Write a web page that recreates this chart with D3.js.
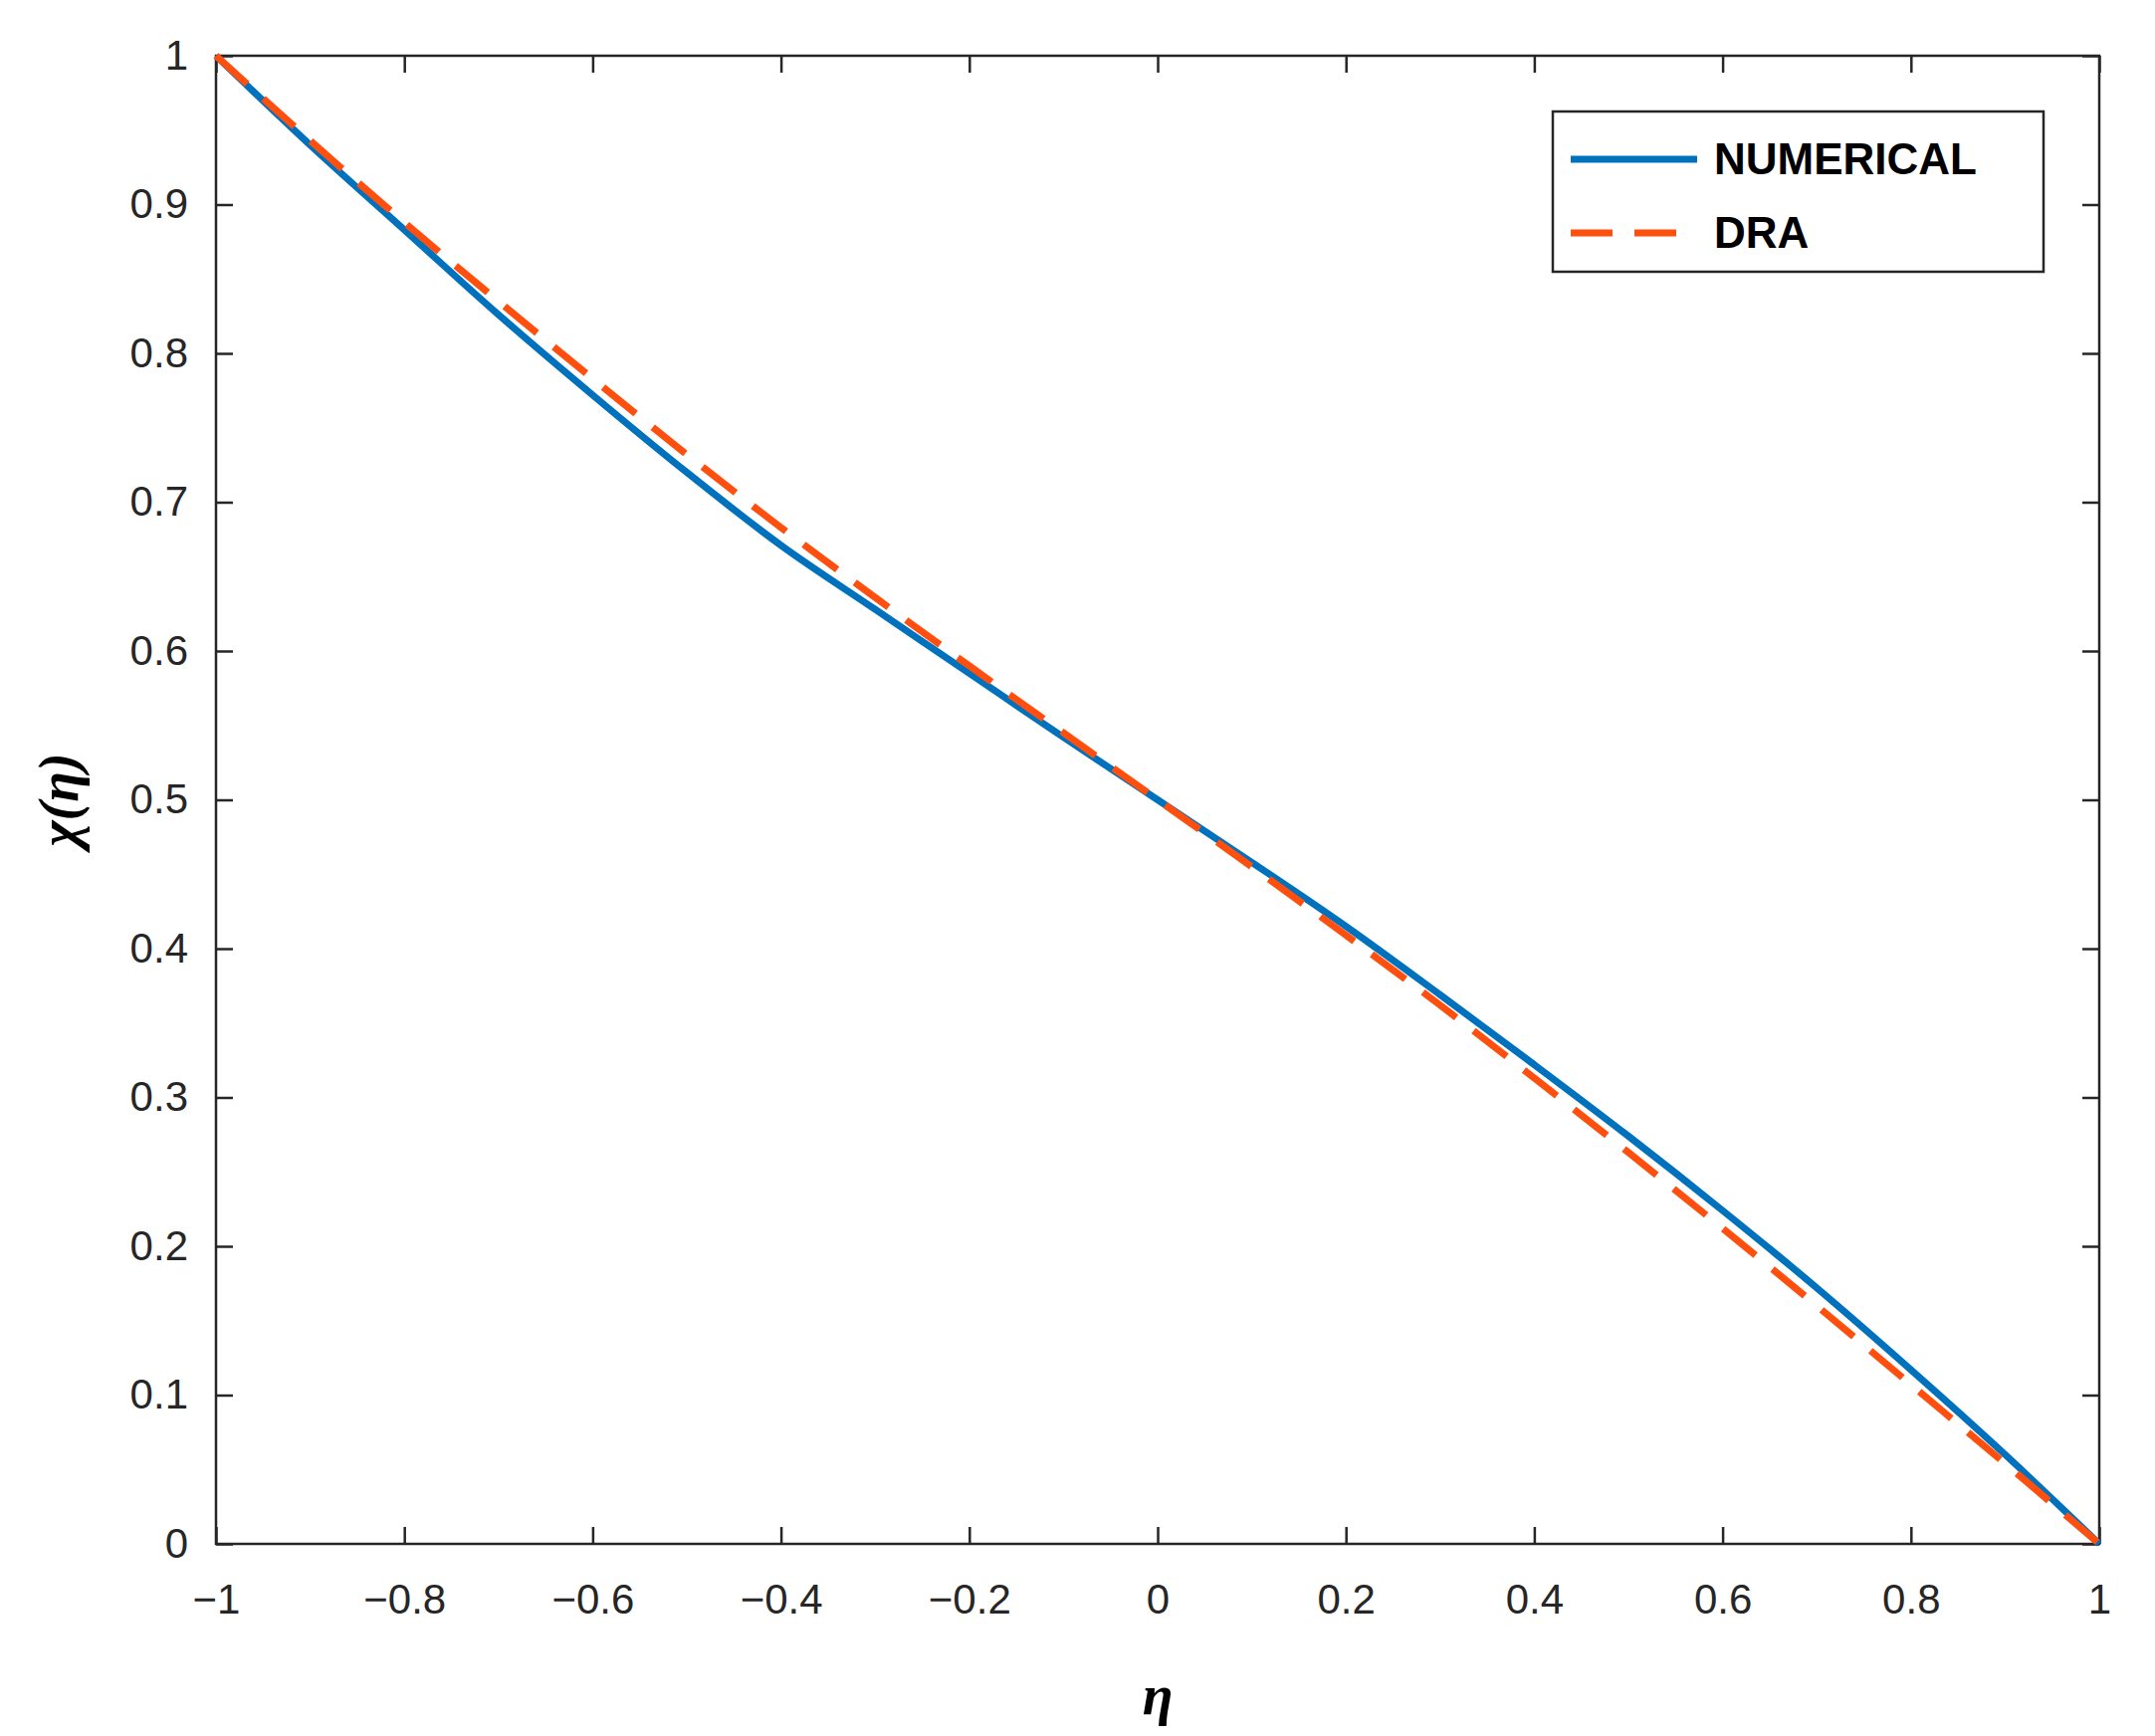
<!DOCTYPE html>
<html><head><meta charset="utf-8">
<script src="https://cdn.jsdelivr.net/npm/d3@7"></script>
<style>body{margin:0;background:#fff}svg{font-family:"Liberation Sans",Arial,sans-serif}</style>
</head><body><div id="chart"></div>
<script>
// Data
const eta = [-1,-0.9,-0.8,-0.7,-0.6,-0.5,-0.4,-0.3,-0.2,-0.1,0,0.1,0.2,0.3,0.4,0.5,0.6,0.7,0.8,0.9,1];
const numerical = [1,0.94,0.883,0.826,0.772,0.72,0.671,0.628,0.585,0.542,0.5,0.458,0.415,0.369,0.322,0.274,0.224,0.172,0.117,0.06,0];
const dra = [1,0.943,0.888,0.835,0.783,0.732,0.683,0.636,0.59,0.545,0.5,0.455,0.409,0.362,0.313,0.263,0.212,0.16,0.107,0.054,0];
const xTicks = [-1,-0.8,-0.6,-0.4,-0.2,0,0.2,0.4,0.6,0.8,1];
const yTicks = [0,0.1,0.2,0.3,0.4,0.5,0.6,0.7,0.8,0.9,1];

const W = 2165, H = 1744;
const margin = {top: 56, right: 56, bottom: 193, left: 217};
const width = W - margin.left - margin.right, height = H - margin.top - margin.bottom;

const svg = d3.select("#chart").append("svg").attr("width", W).attr("height", H);
const g = svg.append("g").attr("transform", `translate(${margin.left},${margin.top})`);

const x = d3.scaleLinear().domain([-1, 1]).range([0, width]);
const y = d3.scaleLinear().domain([0, 1]).range([height, 0]);
const fmt = d => d3.format("")(+d.toFixed(1));

// Axes with inward ticks on all four sides
function styleAxis(sel) {
  sel.select(".domain").remove();
  sel.selectAll("line").attr("stroke", "#262626").attr("stroke-width", 2.5);
  sel.selectAll("text").attr("fill", "#262626").style("font-size", "42px");
}
g.append("g").attr("transform", `translate(0,${height})`)
  .call(d3.axisBottom(x).tickValues(xTicks).tickFormat(fmt).tickSizeInner(-17).tickPadding(40)).call(styleAxis);
g.append("g").call(d3.axisTop(x).tickValues(xTicks).tickFormat("").tickSizeInner(-17)).call(styleAxis);
g.append("g").call(d3.axisLeft(y).tickValues(yTicks).tickFormat(fmt).tickSizeInner(-17).tickPadding(28)).call(styleAxis);
g.append("g").attr("transform", `translate(${width},0)`)
  .call(d3.axisRight(y).tickValues(yTicks).tickFormat("").tickSizeInner(-17)).call(styleAxis);
g.append("rect").attr("width", width).attr("height", height)
  .attr("fill", "none").attr("stroke", "#262626").attr("stroke-width", 2.5);

// Lines
const line = d3.line().x((d, i) => x(eta[i])).y(d => y(d)).curve(d3.curveMonotoneX);
g.append("path").datum(numerical).attr("d", line)
  .attr("fill", "none").attr("stroke", "#0072BD").attr("stroke-width", 7);
g.append("path").datum(dra).attr("d", line)
  .attr("fill", "none").attr("stroke", "#FF4F0F").attr("stroke-width", 7).attr("stroke-dasharray", "42,22");

// Axis labels
svg.append("text").attr("x", margin.left + width / 2).attr("y", H - 22)
  .attr("text-anchor", "middle").style("font", "italic bold 56px 'Liberation Serif', serif").text("η");
svg.append("text").attr("transform", `translate(78,${margin.top + height / 2}) rotate(-90)`)
  .attr("text-anchor", "middle").style("font", "italic bold 56px 'Liberation Serif', serif").text("χ(η)");

// Legend
const lg = svg.append("g").attr("transform", "translate(1560,112)");
lg.append("rect").attr("width", 493).attr("height", 161).attr("fill", "#fff").attr("stroke", "#262626").attr("stroke-width", 2.5);
const items = [["NUMERICAL", "#0072BD", null], ["DRA", "#FF4F0F", "42,22"]];
items.forEach(([name, col, dash], i) => {
  const yy = 48 + i * 74;
  lg.append("line").attr("x1", 18).attr("x2", 145).attr("y1", yy).attr("y2", yy)
    .attr("stroke", col).attr("stroke-width", 7).attr("stroke-dasharray", dash);
  lg.append("text").attr("x", 162).attr("y", yy + 15).style("font-size", "44px").style("font-weight", "bold")
    .attr("fill", "#000").text(name);
});
</script></body></html>
